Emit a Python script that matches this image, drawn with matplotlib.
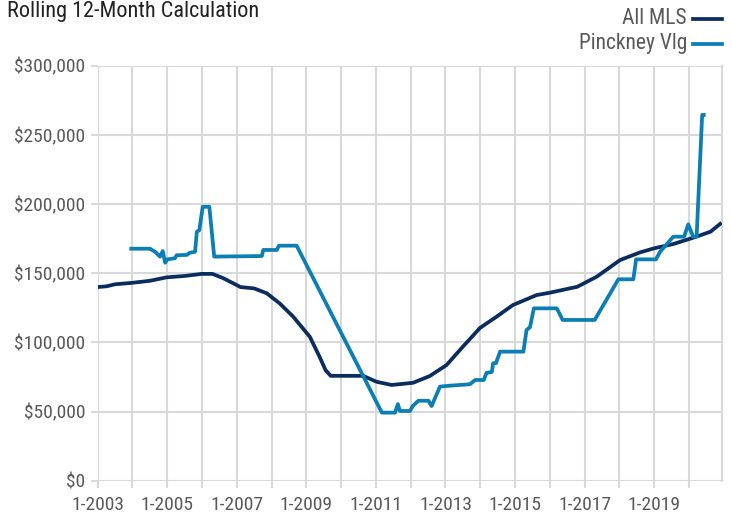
import matplotlib
matplotlib.use('Agg')
import matplotlib.pyplot as plt
from matplotlib.lines import Line2D
from matplotlib.ticker import FuncFormatter

# Values (decimal year, median price)
mls_years = [2003.0, 2003.25, 2003.5, 2003.98, 2004.5, 2004.98, 2005.5, 2005.99, 2006.3,
             2006.6, 2006.99, 2007.1, 2007.5, 2007.86, 2008.24, 2008.62, 2009.1, 2009.39,
             2009.55, 2009.7, 2010.63, 2011.02, 2011.45, 2012.07, 2012.55, 2013.03,
             2013.5, 2013.99, 2014.47, 2014.94, 2015.62, 2016.0, 2016.79, 2017.35,
             2018.02, 2018.6, 2019.0, 2019.55, 2020.13, 2020.62, 2020.94]
mls_values = [140000, 140500, 142000, 143000, 144500, 147000, 148000, 149500, 149500,
              146500, 141500, 140000, 139000, 135500, 128000, 118600, 104000, 89000,
              80000, 75800, 75800, 71500, 69200, 70800, 75700, 83600,
              96900, 110400, 118600, 127000, 134200, 135900, 140200, 147500,
              159500, 165100, 168000, 171100, 175700, 180000, 186500]

pv_years = [2003.91, 2004.5, 2004.65, 2004.79, 2004.87, 2004.94, 2005.0, 2005.22, 2005.27,
            2005.56, 2005.65, 2005.8, 2005.85, 2005.92, 2006.02, 2006.21, 2006.35, 2007.72,
            2007.76, 2008.15, 2008.21, 2008.72, 2011.17, 2011.55, 2011.63, 2011.69,
            2011.98, 2012.06, 2012.22, 2012.51, 2012.6, 2012.84, 2013.13, 2013.7,
            2013.85, 2014.1, 2014.18, 2014.33, 2014.37, 2014.45, 2014.57, 2015.24,
            2015.33, 2015.43, 2015.54, 2016.2, 2016.37, 2017.29, 2017.97, 2018.4,
            2018.48, 2019.05, 2019.17, 2019.55, 2019.86, 2019.98, 2020.12, 2020.22,
            2020.38, 2020.48]
pv_values = [167700, 167700, 165500, 162000, 166000, 157600, 160000, 160800, 163000,
             163200, 164800, 165500, 180000, 181000, 198000, 198000, 162000, 162400,
             166800, 166800, 169900, 169900, 49200, 49200, 55400, 50400,
             50400, 54000, 57800, 57800, 54000, 68000, 68700, 69700,
             72800, 72800, 78000, 78500, 84900, 85000, 93300, 93300,
             108900, 111000, 124600, 124600, 116200, 116200, 145600, 145600,
             160000, 160000, 165500, 176400, 176400, 185300, 176400, 176400,
             264400, 264400]

series_names = ['All MLS', 'Pinckney Vlg']
navy = '#0b2d5e'
teal = '#0b7fb4'
grid_col = '#d9d9d9'
text_col = '#595959'

plt.rcParams['font.family'] = ['Roboto Condensed', 'Roboto', 'DejaVu Sans']

fig = plt.figure(figsize=(7.32, 5.15), dpi=100)
ax = fig.add_axes([97.7 / 732, 34.3 / 515, (722 - 97.7) / 732, 415 / 515])

ax.plot(mls_years, mls_values, color=navy, lw=2.7, solid_capstyle='butt', zorder=3)
ax.plot(pv_years, pv_values, color=teal, lw=2.7, solid_capstyle='butt', zorder=3)

ax.set_xlim(2003, 2020.95)
ax.set_ylim(0, 300000)
ax.set_xticks(range(2003, 2021))
ax.set_xticklabels([f'1-{y}' if (y - 2003) % 2 == 0 else '' for y in range(2003, 2021)])
ax.set_yticks(range(0, 300001, 50000))
ax.yaxis.set_major_formatter(FuncFormatter(lambda v, p: f'${v:,.0f}'))

ax.set_axisbelow(True)
ax.grid(True, color=grid_col, lw=1.5)
for side in ['top', 'bottom', 'left']:
    ax.spines[side].set_visible(False)
ax.spines['right'].set_color(grid_col)
ax.spines['right'].set_linewidth(1.5)
ax.tick_params(axis='both', color=grid_col, width=1.5, length=4.8,
               labelcolor=text_col, labelsize=14, pad=4)
ax.tick_params(axis='x', pad=6)

# Title and legend
fig.text(7 / 732, 1 - 12 / 515, 'Rolling 12-Month Calculation', fontsize=16,
         color='#222222', ha='left', va='center')
for i, (name, col) in enumerate(zip(series_names, [navy, teal])):
    yy = 1 - (19 + 25 * i) / 515
    fig.text(687 / 732, yy, name, fontsize=15.5, color=text_col, ha='right', va='center')
    fig.add_artist(Line2D([693 / 732, 722 / 732], [yy, yy], color=col, lw=2.7,
                          transform=fig.transFigure))

fig.savefig('out.png', dpi=100)
